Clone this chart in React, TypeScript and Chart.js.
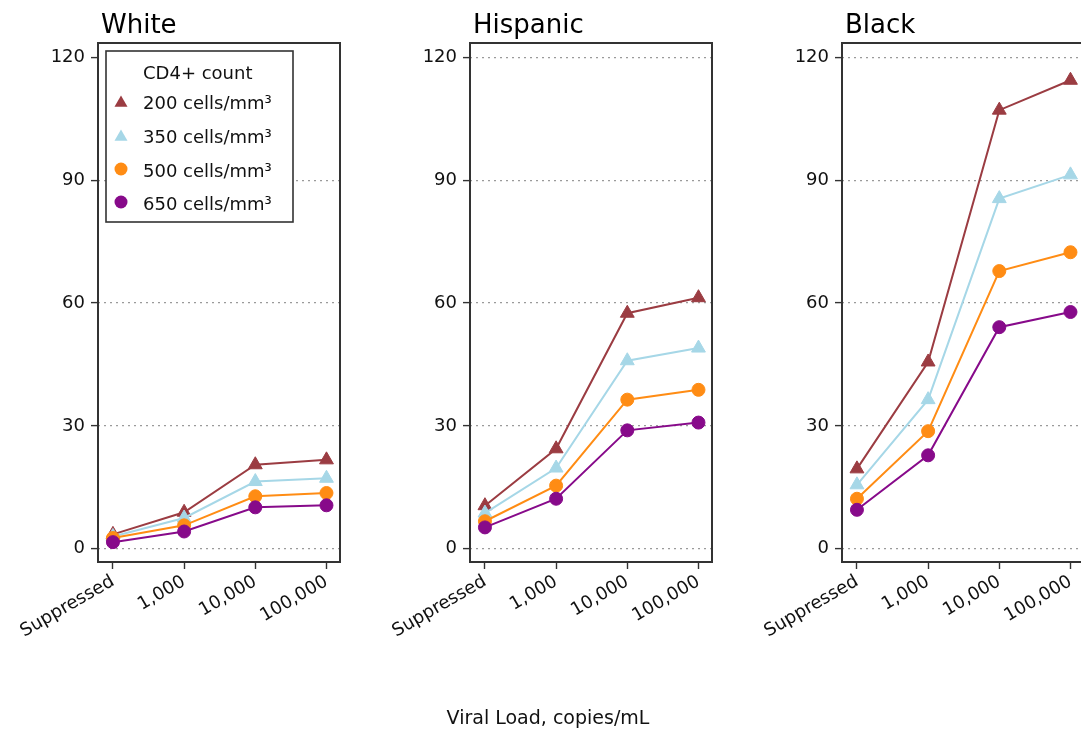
import React, { useEffect, useRef } from 'react';
import { Chart, registerables } from 'chart.js';

Chart.register(...registerables);

// ---------- data ----------
const categories = ['Suppressed', '1,000', '10,000', '100,000'];
const seriesLabels = ['200 cells/mm³', '350 cells/mm³', '500 cells/mm³', '650 cells/mm³'];
const panelTitles = ['White', 'Hispanic', 'Black'];
const legendTitle = 'CD4+ count';
const xAxisTitle = 'Viral Load, copies/mL';
const yTicks = [0, 30, 60, 90, 120];

const white200 = [3.5, 8.9, 20.5, 21.7];
const white350 = [3.0, 7.5, 16.4, 17.2];
const white500 = [2.6, 5.7, 12.8, 13.6];
const white650 = [1.6, 4.2, 10.1, 10.6];

const hispanic200 = [10.5, 24.4, 57.5, 61.3];
const hispanic350 = [8.7, 19.7, 45.9, 49.0];
const hispanic500 = [6.7, 15.4, 36.4, 38.8];
const hispanic650 = [5.2, 12.2, 28.9, 30.8];

const black200 = [19.5, 45.6, 107.1, 114.4];
const black350 = [15.6, 36.4, 85.5, 91.3];
const black500 = [12.2, 28.7, 67.8, 72.4];
const black650 = [9.5, 22.8, 54.1, 57.8];

// ---------- styles ----------
const colors = ['#9b3c42', '#a6d7e7', '#ff8c14', '#870a8a'];
const shapes = ['triangle', 'triangle', 'circle', 'circle'];
const FONT = '"DejaVu Sans", "Liberation Sans", sans-serif';
const TEXT = '#111111';
const BOX = '#333333';

const panels = [
  { title: panelTitles[0], data: [white200, white350, white500, white650], legend: true, hideTop: true, left: 0 },
  { title: panelTitles[1], data: [hispanic200, hispanic350, hispanic500, hispanic650], legend: false, hideTop: false, left: 372 },
  { title: panelTitles[2], data: [black200, black350, black500, black650], legend: false, hideTop: false, left: 744 },
];

const CW = 360;
const CH = 732;

function drawMarker(ctx: CanvasRenderingContext2D, shape: string, x: number, y: number, r: number, color: string) {
  ctx.save();
  ctx.fillStyle = color;
  ctx.beginPath();
  if (shape === 'triangle') {
    let a = 0;
    ctx.moveTo(x + Math.sin(a) * r, y - Math.cos(a) * r);
    a += (2 * Math.PI) / 3;
    ctx.lineTo(x + Math.sin(a) * r, y - Math.cos(a) * r);
    a += (2 * Math.PI) / 3;
    ctx.lineTo(x + Math.sin(a) * r, y - Math.cos(a) * r);
    ctx.closePath();
  } else {
    ctx.arc(x, y, r, 0, Math.PI * 2);
  }
  ctx.fill();
  ctx.restore();
}

function makeConfig(p: any): any {
  const decoPlugin = {
    id: 'panelDeco',
    afterDraw(chart: any) {
      const { ctx, chartArea } = chart;
      const { left, top, right, bottom } = chartArea;
      ctx.save();
      if (p.legend) {
        const lx = left + 8;
        const ly = top + 8;
        const lw = 187;
        const lh = 171;
        ctx.fillStyle = '#ffffff';
        ctx.fillRect(lx, ly, lw, lh);
        ctx.strokeStyle = BOX;
        ctx.lineWidth = 1.6;
        ctx.strokeRect(lx, ly, lw, lh);
        ctx.fillStyle = TEXT;
        ctx.font = `18px ${FONT}`;
        ctx.textBaseline = 'middle';
        ctx.textAlign = 'left';
        ctx.fillText(legendTitle, lx + 37, ly + 23);
        const rows = [50, 84, 118, 151];
        chart.data.datasets.forEach((ds: any, i: number) => {
          const ry = ly + rows[i];
          drawMarker(ctx, shapes[i], lx + 15, ry + (shapes[i] === 'triangle' ? 2 : 0), shapes[i] === 'triangle' ? 7.5 : 6.5, colors[i]);
          ctx.fillStyle = TEXT;
          ctx.fillText(ds.label, lx + 37, ry + 3);
        });
      }
      ctx.strokeStyle = BOX;
      ctx.lineWidth = 2;
      ctx.strokeRect(left, top, right - left, bottom - top);
      ctx.fillStyle = '#000';
      ctx.font = `26px ${FONT}`;
      ctx.textBaseline = 'alphabetic';
      ctx.textAlign = 'left';
      ctx.fillText(p.title, left + 3, 33);
      ctx.restore();
    },
  };

  return {
    type: 'line',
    data: {
      datasets: p.data.map((vals: number[], i: number) => ({
        label: seriesLabels[i],
        data: vals.map((v, j) => ({ x: j, y: v })),
        borderColor: colors[i],
        backgroundColor: colors[i],
        pointBackgroundColor: colors[i],
        pointBorderColor: colors[i],
        pointBorderWidth: 1,
        pointStyle: shapes[i],
        pointRadius: shapes[i] === 'triangle' ? 8 : 6.5,
        borderWidth: 2,
        tension: 0,
        order: 3 - i,
        clip: false,
      })),
    },
    options: {
      responsive: false,
      animation: false,
      devicePixelRatio: 1,
      events: [],
      layout: { padding: { left: 0, top: 43, right: 20, bottom: 0 } },
      plugins: {
        legend: { display: false },
        title: { display: false },
        tooltip: { enabled: false },
      },
      scales: {
        x: {
          type: 'linear',
          min: -0.21,
          max: 3.19,
          afterBuildTicks: (s: any) => {
            s.ticks = categories.map((_, i) => ({ value: i }));
          },
          afterFit: (s: any) => {
            s.height = 170;
          },
          ticks: {
            callback: (v: any) => categories[Math.round(v)],
            autoSkip: false,
            minRotation: 30,
            maxRotation: 30,
            color: TEXT,
            font: { family: FONT, size: 18 },
            padding: 2,
          },
          grid: {
            drawOnChartArea: false,
            drawTicks: true,
            tickLength: 7,
            tickColor: BOX,
            tickWidth: 1.4,
          },
          border: { display: false },
        },
        y: {
          type: 'linear',
          min: -3.25,
          max: 123.5,
          afterBuildTicks: (s: any) => {
            s.ticks = yTicks.map((v) => ({ value: v }));
          },
          afterFit: (s: any) => {
            s.width = 98;
          },
          ticks: {
            color: TEXT,
            font: { family: FONT, size: 18 },
            padding: 6,
          },
          grid: {
            color: (ctx: any) => (p.hideTop && ctx.tick && ctx.tick.value === 120 ? 'rgba(0,0,0,0)' : '#9a9a9a'),
            lineWidth: 1.2,
            tickColor: BOX,
            tickLength: 7,
            tickWidth: 1.4,
          },
          border: { display: false, dash: [2, 4] },
        },
      },
    },
    plugins: [decoPlugin],
  };
}

export default function App() {
  const refs = [useRef<HTMLCanvasElement>(null), useRef<HTMLCanvasElement>(null), useRef<HTMLCanvasElement>(null)];

  useEffect(() => {
    const charts = panels.map((p, i) => new Chart(refs[i].current as HTMLCanvasElement, makeConfig(p)));
    return () => charts.forEach((c) => c.destroy());
  }, []);

  return (
    <div
      style={{
        position: 'absolute',
        left: 0,
        top: 0,
        width: 1081,
        height: 732,
        overflow: 'hidden',
        background: '#ffffff',
      }}
    >
      {panels.map((p, i) => (
        <canvas
          key={p.title}
          ref={refs[i]}
          width={CW}
          height={CH}
          style={{ position: 'absolute', left: p.left, top: 0, width: CW, height: CH }}
        />
      ))}
      <div
        style={{
          position: 'absolute',
          left: 348,
          top: 706,
          width: 400,
          lineHeight: '22px',
          textAlign: 'center',
          fontFamily: FONT,
          fontSize: 19,
          color: TEXT,
        }}
      >
        {xAxisTitle}
      </div>
    </div>
  );
}
